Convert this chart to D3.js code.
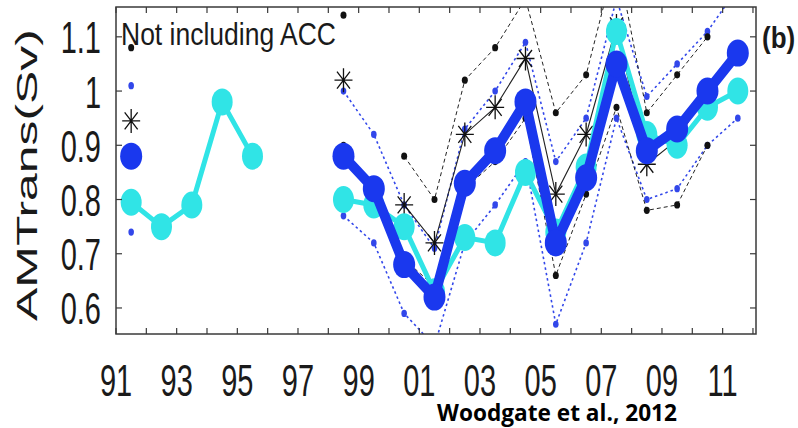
<!DOCTYPE html>
<html><head><meta charset="utf-8">
<script src="https://cdn.jsdelivr.net/npm/d3@7"></script>
<style>body{margin:0;background:#fff}svg{display:block}</style>
</head><body>
<svg id="c" width="798" height="428"></svg>
<script>
// ---- data ----
const years = [1991,1992,1993,1994,1995,1996,1997,1998,1999,2000,2001,2002,2003,2004,2005,2006,2007,2008,2009,2010,2011];
const n = null;
const amtBlue   = [0.88, n, n, n, n, n, n, 0.88, 0.82, 0.68, 0.62, 0.83, 0.89, 0.98, 0.72, 0.84, 1.05, 0.89, 0.93, 1.00, 1.07];
const blueUpper = [1.01, n, n, n, n, n, n, 1.00, 0.92, 0.79, 0.71, 0.93, 1.00, 1.09, 0.87, 0.95, 1.17, 0.99, 1.05, 1.11, 1.19];
const blueLower = [0.74, n, n, n, n, n, n, 0.77, 0.72, 0.59, 0.53, 0.72, 0.79, 0.87, 0.57, 0.72, 0.95, 0.80, 0.82, 0.90, 0.95];
const amtCyan   = [0.795, 0.75, 0.79, 0.98, 0.88, n, n, 0.80, 0.79, 0.75, 0.63, 0.73, 0.72, 0.85, 0.74, 0.86, 1.11, 0.92, 0.90, 0.97, 1.00];
const amtStar   = [0.945, n, n, n, n, n, n, 1.02, n, 0.79, 0.72, 0.92, 0.97, 1.06, 0.81, 0.92, 1.12, 0.865, 0.91, 1.00, n];
const starUpper = [1.08, n, n, n, n, n, n, 1.14, n, 0.88, 0.80, 1.02, 1.08, 1.17, 0.96, 1.03, 1.25, 0.96, 1.03, 1.10, n];
const starLower = [0.81, n, n, n, n, n, n, 0.90, n, 0.69, 0.64, 0.82, 0.87, 0.95, 0.66, 0.81, 0.97, 0.78, 0.79, 0.90, n];
const xTickLabels = ["91","93","95","97","99","01","03","05","07","09","11"];
const xTickYears  = [1991,1993,1995,1997,1999,2001,2003,2005,2007,2009,2011];
const yTicks = [0.6,0.7,0.8,0.9,1.0,1.1];
const yTickLabels = ["0.6","0.7","0.8","0.9","1","1.1"];

// ---- layout ----
const L=116, R=756, T=7, B=334;
const svg = d3.select("#c");
const x = d3.scaleLinear().domain([1991, 2012.1]).range([L, R]);
const y = d3.scaleLinear().domain([0.552, 1.155]).range([B, T]);
const cx = i => x(years[i] + 0.5);

const defs = svg.append("defs");
defs.append("clipPath").attr("id","clip").append("rect")
  .attr("x",L).attr("y",T).attr("width",R-L).attr("height",B-T);

const plot = svg.append("g").attr("clip-path","url(#clip)");
const idx = years.map((d,i)=>i);
const mkLine = arr => d3.line().defined(i=>arr[i]!=null).x(i=>cx(i)).y(i=>y(arr[i]))(idx);
const pts = arr => idx.filter(i=>arr[i]!=null);

const BLUE="#1a38ee", CYAN="#30e4e6", BBLUE="#3247ea";

// blue bounds (dotted)
[blueUpper, blueLower].forEach(arr=>{
  plot.append("path").attr("d",mkLine(arr)).attr("fill","none")
    .attr("stroke",BBLUE).attr("stroke-width",1.6).attr("stroke-dasharray","2.5,3");
  plot.selectAll(null).data(pts(arr)).enter().append("ellipse")
    .attr("cx",i=>cx(i)).attr("cy",i=>y(arr[i])).attr("rx",2.8).attr("ry",3.6).attr("fill",BBLUE);
});
// black bounds (dashed)
[starUpper, starLower].forEach(arr=>{
  plot.append("path").attr("d",mkLine(arr)).attr("fill","none")
    .attr("stroke","#222").attr("stroke-width",1).attr("stroke-dasharray","4,3");
  plot.selectAll(null).data(pts(arr)).enter().append("ellipse")
    .attr("cx",i=>cx(i)).attr("cy",i=>y(arr[i])).attr("rx",3).attr("ry",3.6).attr("fill","#111");
});
// star series line + asterisks
plot.append("path").attr("d",mkLine(amtStar)).attr("fill","none")
  .attr("stroke","#222").attr("stroke-width",1.1);
plot.selectAll(null).data(pts(amtStar)).enter().append("path")
  .attr("transform",i=>`translate(${cx(i)},${y(amtStar[i])})`)
  .attr("d","M-9,0L9,0M0,-12L0,12M-6.5,-8.5L6.5,8.5M-6.5,8.5L6.5,-8.5")
  .attr("stroke","#111").attr("stroke-width",1.3).attr("fill","none");
// cyan
plot.append("path").attr("d",mkLine(amtCyan)).attr("fill","none")
  .attr("stroke",CYAN).attr("stroke-width",5).attr("stroke-linejoin","round");
plot.selectAll(null).data(pts(amtCyan)).enter().append("ellipse")
  .attr("cx",i=>cx(i)).attr("cy",i=>y(amtCyan[i])).attr("rx",10.5).attr("ry",13.5).attr("fill",CYAN);
// blue thick
plot.append("path").attr("d",mkLine(amtBlue)).attr("fill","none")
  .attr("stroke",BLUE).attr("stroke-width",10).attr("stroke-linejoin","round");
plot.selectAll(null).data(pts(amtBlue)).enter().append("ellipse")
  .attr("cx",i=>cx(i)).attr("cy",i=>y(amtBlue[i])).attr("rx",11).attr("ry",13.5).attr("fill",BLUE);

// ---- frame & ticks ----
const axisCol="#3a3a3a";
svg.append("rect").attr("x",L).attr("y",T).attr("width",R-L).attr("height",B-T)
  .attr("fill","none").attr("stroke",axisCol).attr("stroke-width",1.5);
const xt = d3.range(1991, 2013);
svg.selectAll(null).data(xt).enter().append("line")
  .attr("x1",d=>x(d)).attr("x2",d=>x(d)).attr("y1",B).attr("y2",B-6).attr("stroke",axisCol).attr("stroke-width",1.2);
svg.selectAll(null).data(xt).enter().append("line")
  .attr("x1",d=>x(d)).attr("x2",d=>x(d)).attr("y1",T).attr("y2",T+6).attr("stroke",axisCol).attr("stroke-width",1.2);
svg.selectAll(null).data(yTicks).enter().append("line")
  .attr("x1",L).attr("x2",L+6).attr("y1",d=>y(d)).attr("y2",d=>y(d)).attr("stroke",axisCol).attr("stroke-width",1.2);
svg.selectAll(null).data(yTicks).enter().append("line")
  .attr("x1",R).attr("x2",R-6).attr("y1",d=>y(d)).attr("y2",d=>y(d)).attr("stroke",axisCol).attr("stroke-width",1.2);

const font = "'Liberation Sans', Arial, sans-serif";
// x labels
svg.selectAll(null).data(xTickYears).enter().append("text")
  .attr("transform",d=>`translate(${x(d)},396) scale(1,1.55)`)
  .attr("text-anchor","middle").attr("font-family",font).attr("font-size",29).attr("fill","#1a1a1a")
  .text((d,i)=>xTickLabels[i]);
// y labels
svg.selectAll(null).data(yTicks).enter().append("text")
  .attr("transform",d=>`translate(101,${y(d)+16.5}) scale(1,1.55)`)
  .attr("text-anchor","end").attr("font-family",font).attr("font-size",29).attr("fill","#1a1a1a")
  .text((d,i)=>yTickLabels[i]);
// y title
svg.append("text")
  .attr("transform","translate(37,175) scale(1,1.72) rotate(-90)")
  .attr("text-anchor","middle").attr("font-family",font).attr("font-size",29).attr("fill","#1a1a1a")
  .text("AMTrans(Sv)");
// annotation
svg.append("text")
  .attr("transform","translate(121,45) scale(1,1.28)")
  .attr("font-family",font).attr("font-size",25).attr("fill","#1a1a1a")
  .attr("textLength",215).attr("lengthAdjust","spacingAndGlyphs")
  .text("Not including ACC");
svg.append("text")
  .attr("transform","translate(762,48) scale(1,1.15)")
  .attr("font-family",font).attr("font-size",26).attr("font-weight","bold").attr("fill","#1a1a1a")
  .text("(b)");
svg.append("text")
  .attr("x",437).attr("y",421)
  .attr("font-family","'Open Sans', Lato, sans-serif").attr("font-size",23).attr("font-weight","bold").attr("fill","#000")
  .attr("textLength",240).attr("lengthAdjust","spacingAndGlyphs")
  .text("Woodgate et al., 2012");
</script>
</body></html>
